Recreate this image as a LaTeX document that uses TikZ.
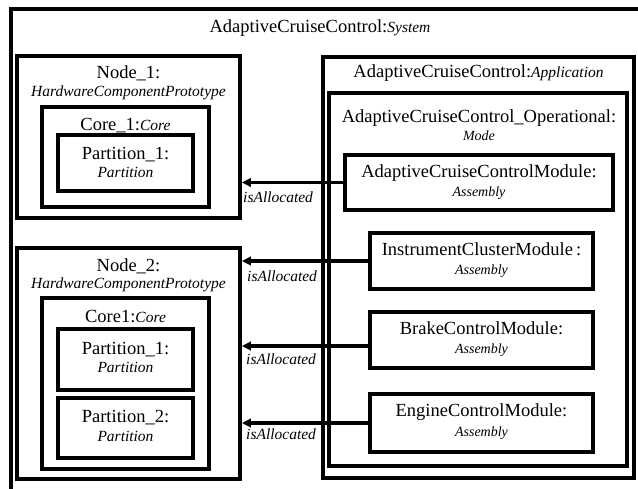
\documentclass[tikz,border=0pt]{standalone}
\usepackage{fontspec}
\setmainfont{Liberation Serif}
\usetikzlibrary{arrows.meta,fit}

% type sizes
\newcommand{\mainfs}{\fontsize{18.5}{22}\selectfont}
\newcommand{\typefs}{\fontsize{15.5}{18}\selectfont\itshape}
\newcommand{\smallfs}{\fontsize{14}{16}\selectfont\itshape}

\tikzset{
  boxframe/.style={draw=black, line width=3.8pt, inner sep=0pt},
  outerframe/.style={draw=black, line width=4.4pt},
  txt/.style={inner sep=0pt, anchor=base, font=\mainfs},
  typ/.style={inner sep=0pt, anchor=base, font=\typefs},
  sml/.style={inner sep=0pt, anchor=base, font=\smallfs},
  alloc/.style={-{Triangle[length=9pt,width=8.5pt]}, line width=3.2pt},
  rel/.style={inner sep=0pt, anchor=base west, font=\typefs},
}

\begin{document}
\begin{tikzpicture}[x=1pt,y=-1pt]
  \fill[white] (0,0) rectangle (638,489);
  \clip (0,0) rectangle (638,489);

  % system container (open to the right and bottom)
  \draw[outerframe] (650,9) -- (11,9) -- (11,500);
  \node[txt] (systitle) at (320,33) {AdaptiveCruiseControl:{\typefs System}};

  % hardware side
  \node[boxframe, fit={(17,56) (240,218)}] (node1) {};
  \node[txt] (node1a) at (128.5,79) {Node\_1:};
  \node[typ] (node1b) at (128.5,97) {HardwareComponentPrototype};
  \node[boxframe, fit={(42,107) (209,207)}] (core1) {};
  \node[txt] (core1a) at (125.5,131) {Core\_1:{\typefs Core}};
  \node[boxframe, fit={(58,135) (193,191)}] (part11) {};
  \node[txt] (part11a) at (125.5,160) {Partition\_1:};
  \node[typ] (part11b) at (125.5,178) {Partition};

  \node[boxframe, fit={(17,248) (240,479)}] (node2) {};
  \node[txt] (node2a) at (128.5,272) {Node\_2:};
  \node[typ] (node2b) at (128.5,289) {HardwareComponentPrototype};
  \node[boxframe, fit={(42,298) (209,469)}] (core2) {};
  \node[txt] (core2a) at (125.5,323) {Core1:{\typefs Core}};
  \node[boxframe, fit={(58,329) (193,390)}] (part21) {};
  \node[txt] (part21a) at (125.5,355) {Partition\_1:};
  \node[typ] (part21b) at (125.5,373) {Partition};
  \node[boxframe, fit={(58,398) (193,458)}] (part22) {};
  \node[txt] (part22a) at (125.5,423) {Partition\_2:};
  \node[typ] (part22b) at (125.5,441) {Partition};

  % application side
  \node[boxframe, fit={(323,57) (634,478)}] (app) {};
  \node[txt] (appa) at (478.5,78) {AdaptiveCruiseControl:{\typefs Application}};
  \node[boxframe, fit={(329,93) (627,466)}] (mode) {};
  \node[txt] (modea) at (479,123) {AdaptiveCruiseControl\_Operational:};
  \node[sml] (modeb) at (479,141) {Mode};

  \node[boxframe, fit={(345,155) (613,210)}] (acc) {};
  \node[txt] (acca) at (479,178) {AdaptiveCruiseControlModule:};
  \node[sml] (accb) at (479,197) {Assembly};
  \node[boxframe, fit={(370,233) (593,289)}] (icm) {};
  \node[txt] (icma) at (481.5,256) {InstrumentClusterModule\,:};
  \node[sml] (icmb) at (481.5,275) {Assembly};
  \node[boxframe, fit={(370,312) (593,368)}] (bcm) {};
  \node[txt] (bcma) at (481.5,335) {BrakeControlModule:};
  \node[sml] (bcmb) at (481.5,354) {Assembly};
  \node[boxframe, fit={(370,394) (593,452)}] (ecm) {};
  \node[txt] (ecma) at (481.5,417) {EngineControlModule:};
  \node[sml] (ecmb) at (481.5,436) {Assembly};

  % allocation relations
  \coordinate (bcmout) at ([yshift=-6pt]bcm.west);
  \draw[alloc] (acc.west) -- (acc.west -| node1.east);
  \draw[alloc] (icm.west) -- (icm.west -| node2.east);
  \draw[alloc] (bcmout) -- (bcmout -| node2.east);
  \draw[alloc] (ecm.west) -- (ecm.west -| node2.east);
  \node[rel] (r1) at (243,203) {isAllocated};
  \node[rel] (r2) at (247,282) {isAllocated};
  \node[rel] (r3) at (246,365) {isAllocated};
  \node[rel] (r4) at (246,439) {isAllocated};
\end{tikzpicture}
\end{document}
